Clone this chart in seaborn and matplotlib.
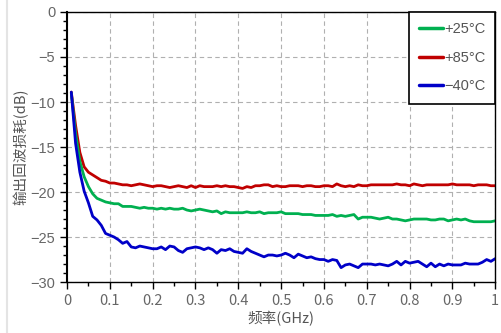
import numpy as np
import pandas as pd
import matplotlib
matplotlib.use('Agg')
import matplotlib.pyplot as plt
from matplotlib.ticker import MultipleLocator
from matplotlib.lines import Line2D
import seaborn as sns

# frequency sweep points (GHz)
freq = np.round(np.linspace(0.01, 1.0, 100), 2)

s11_p25 = [
    -9.0, -13.5, -16.6, -18.3, -19.4, -20.2, -20.7, -20.9, -21.1, -21.2,
    -21.3, -21.3, -21.6, -21.6, -21.6, -21.7, -21.8, -21.7, -21.8, -21.8,
    -21.9, -21.8, -21.9, -21.8, -21.9, -21.9, -21.8, -22.0, -22.1, -22.0,
    -21.9, -22.0, -22.1, -22.2, -22.1, -22.4, -22.2, -22.3, -22.3, -22.3,
    -22.3, -22.2, -22.3, -22.3, -22.2, -22.4, -22.3, -22.3, -22.3, -22.2,
    -22.4, -22.4, -22.4, -22.4, -22.5, -22.5, -22.5, -22.6, -22.6, -22.6,
    -22.6, -22.5, -22.7, -22.6, -22.7, -22.6, -22.5, -23.0, -22.8, -22.8,
    -22.8, -22.9, -23.0, -22.9, -22.8, -23.0, -23.0, -23.1, -23.2, -23.1,
    -23.0, -23.0, -23.0, -23.0, -23.1, -23.1, -23.0, -23.0, -23.2, -23.1,
    -23.0, -23.1, -23.0, -23.2, -23.3, -23.3, -23.3, -23.3, -23.3, -23.2,
]
s11_p85 = [
    -8.9, -12.6, -15.6, -17.2, -17.8, -18.1, -18.4, -18.7, -18.8, -19.0,
    -19.0, -19.1, -19.2, -19.2, -19.3, -19.2, -19.1, -19.2, -19.3, -19.4,
    -19.3, -19.3, -19.4, -19.5, -19.4, -19.3, -19.4, -19.5, -19.3, -19.5,
    -19.3, -19.4, -19.4, -19.4, -19.3, -19.4, -19.3, -19.4, -19.4, -19.5,
    -19.6, -19.4, -19.5, -19.3, -19.3, -19.2, -19.2, -19.4, -19.3, -19.4,
    -19.4, -19.3, -19.3, -19.3, -19.4, -19.3, -19.3, -19.4, -19.4, -19.3,
    -19.3, -19.4, -19.1, -19.3, -19.4, -19.3, -19.4, -19.2, -19.3, -19.3,
    -19.2, -19.2, -19.2, -19.2, -19.2, -19.2, -19.1, -19.2, -19.2, -19.3,
    -19.1, -19.2, -19.3, -19.2, -19.2, -19.2, -19.2, -19.2, -19.2, -19.1,
    -19.2, -19.2, -19.2, -19.2, -19.3, -19.2, -19.2, -19.2, -19.3, -19.3,
]
s11_m40 = [
    -8.9, -14.6, -17.8, -19.9, -21.2, -22.7, -23.1, -23.7, -24.6, -24.8,
    -25.0, -25.3, -25.7, -25.5, -26.1, -26.2, -26.0, -26.1, -26.2, -26.3,
    -26.3, -26.1, -26.4, -26.0, -26.1, -26.5, -26.7, -26.3, -26.2, -26.1,
    -26.2, -26.4, -26.2, -26.4, -26.8, -26.4, -26.5, -26.3, -26.6, -26.7,
    -26.8, -26.3, -26.6, -26.8, -27.0, -27.2, -27.0, -27.0, -27.1, -27.0,
    -26.8, -27.0, -27.3, -26.9, -27.1, -27.3, -27.2, -27.4, -27.5, -27.5,
    -27.7, -27.5, -27.6, -28.4, -28.1, -28.0, -28.2, -28.4, -28.0, -28.0,
    -28.0, -28.1, -28.0, -28.1, -28.2, -28.0, -27.7, -28.1, -27.7, -27.9,
    -27.8, -27.7, -28.0, -28.3, -27.9, -28.3, -28.0, -28.2, -28.0, -28.1,
    -28.1, -28.1, -27.9, -28.0, -28.0, -28.0, -27.8, -27.5, -27.7, -27.4,
]

labels = ['+25°C', '+85°C', '\u221240°C']
colors = {'+25°C': '#00b050', '+85°C': '#c00000', '\u221240°C': '#0000c8'}
xticks = [0, 0.1, 0.2, 0.3, 0.4, 0.5, 0.6, 0.7, 0.8, 0.9, 1]
xticklabels = ['0', '0.1', '0.2', '0.3', '0.4', '0.5', '0.6', '0.7', '0.8', '0.9', '1']
yticks = [0, -5, -10, -15, -20, -25, -30]

df = pd.concat([
    pd.DataFrame({'freq': freq, 'db': s11_p25, 'temp': labels[0]}),
    pd.DataFrame({'freq': freq, 'db': s11_p85, 'temp': labels[1]}),
    pd.DataFrame({'freq': freq, 'db': s11_m40, 'temp': labels[2]}),
])

sns.set_style('white')
plt.rcParams['font.family'] = ['Noto Sans CJK SC', 'DejaVu Sans']
plt.rcParams['axes.unicode_minus'] = True

fig = plt.figure(figsize=(5.02, 3.33), dpi=100)
ax = fig.add_axes([0.1335, 0.153, 0.853, 0.811])

# draw red first so the other curves sit on top
for lab in [labels[1], labels[0], labels[2]]:
    sns.lineplot(data=df[df['temp'] == lab], x='freq', y='db', color=colors[lab],
                 linewidth=2.0, ax=ax, label=lab, legend=False)

ax.set_xlim(0, 1)
ax.set_ylim(-30, 0)
ax.set_xticks(xticks)
ax.set_xticklabels(xticklabels)
ax.set_yticks(yticks)
ax.set_yticklabels(['0' if v == 0 else '\u2212' + str(-v) for v in yticks])
ax.xaxis.set_minor_locator(MultipleLocator(0.05))
ax.yaxis.set_minor_locator(MultipleLocator(1))
ax.grid(True, which='major', linestyle=(0, (4, 3)), color='#b0b0b0', linewidth=0.8)
ax.tick_params(which='both', direction='out', color='black', left=True, bottom=True)
ax.tick_params(which='major', length=5, width=1, labelsize=10.5, labelcolor='#666666')
ax.tick_params(which='minor', length=3, width=1)
for lbl in ax.get_yticklabels():
    lbl.set_fontfamily('Liberation Sans')
for sp in ax.spines.values():
    sp.set_color('black')
    sp.set_linewidth(1.0)
ax.spines['left'].set_linewidth(1.5)

ax.set_xlabel('频率(GHz)', fontsize=10.5, color='#555555', labelpad=2)
ax.set_ylabel('输出回波损耗(dB)', fontsize=10.5, color='#555555', labelpad=1)

handles = [Line2D([], [], color=colors[l], linewidth=2.5) for l in labels]
leg = ax.legend(handles, labels, loc='upper right', fancybox=False, framealpha=1,
                edgecolor='black', borderaxespad=0, handlelength=1.65, handletextpad=0.05,
                labelspacing=1.0, borderpad=0.7,
                prop={'family': 'Liberation Sans', 'size': 10.5})
for t in leg.get_texts():
    t.set_color('#555555')
leg.get_frame().set_linewidth(1.2)

fig.add_artist(Line2D([7 / 502, 7 / 502], [0, 1], color='#e4e4e4', linewidth=1.5))

fig.savefig('out.png', dpi=100)
